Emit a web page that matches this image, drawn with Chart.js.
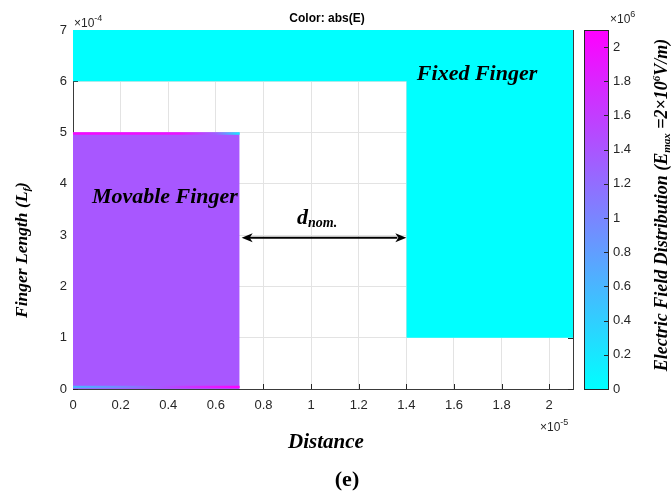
<!DOCTYPE html>
<html>
<head>
<meta charset="utf-8">
<title>Electric field around comb fingers</title>
<script src="https://cdn.jsdelivr.net/npm/chart.js@4"></script>
<style>
  html, body { margin: 0; padding: 0; background: #fff; }
  #wrap { position: relative; width: 672px; height: 497px; }
  #wrap canvas { position: absolute; left: 0; top: 0; }
</style>
</head>
<body>
<div id="wrap">
  <canvas id="field" width="672" height="497"></canvas>
  <canvas id="colorbar" width="672" height="497"></canvas>
</div>
<script>
// Axis ticks (values shown in units of the axis exponent)
const xTickValues = [0, 0.2, 0.4, 0.6, 0.8, 1, 1.2, 1.4, 1.6, 1.8, 2];     // distance, x10^-5 m
const yTickValues = [0, 1, 2, 3, 4, 5, 6, 7];                                // finger length, x10^-4 m
const fieldTickValues = [0, 0.2, 0.4, 0.6, 0.8, 1, 1.2, 1.4, 1.6, 1.8, 2];  // |E|, x10^6 V/m
const distanceMax = 2.1;
const lengthMax = 7;
const fieldMax = 2.1;

// Conductor regions: x extent, top and bottom edge, |E| inside
const regionNames = ['Anchor', 'Fixed Finger', 'Movable Finger'];
const regionXStart = [0, 1.4, 0];
const regionXEnd = [2.1, 2.1, 0.7];
const regionTop = [7, 7, 5];
const regionBottom = [6, 1, 0];
const regionField = [0, 0, 1.38];

// |E| along the top and bottom faces of the movable finger
const topEdgeX = [0, 0.45, 0.6, 0.7];
const topEdgeField = [2.05, 1.95, 1.3, 0.15];
const topEdgeY = 4.98;
const bottomEdgeX = [0, 0.2, 0.5, 0.7];
const bottomEdgeField = [0.6, 1.0, 1.7, 2.1];
const bottomEdgeY = 0.04;

// Nominal gap between the fingers
const gapStart = 0.7;
const gapEnd = 1.4;
const gapY = 2.95;

const SANS = '"Liberation Sans", Arial, sans-serif';
const SERIF = '"Liberation Serif", "Times New Roman", serif';
const INK = '#262626';

// "cool" colormap: cyan at 0, magenta at fieldMax
function cool(v) {
  const t = Math.max(0, Math.min(1, v / fieldMax));
  return 'rgb(' + Math.round(255 * t) + ',' + Math.round(255 * (1 - t)) + ',255)';
}

function runsWidth(ctx, runs) {
  let w = 0;
  for (const r of runs) { ctx.font = r.font; w += ctx.measureText(r.text).width; }
  return w;
}
function drawRuns(ctx, runs, x, y, align) {
  const w = runsWidth(ctx, runs);
  let cx = align === 'center' ? x - w / 2 : (align === 'right' ? x - w : x);
  ctx.textAlign = 'left';
  ctx.textBaseline = 'alphabetic';
  for (const r of runs) {
    ctx.font = r.font;
    ctx.fillText(r.text, cx, y + (r.dy || 0));
    cx += ctx.measureText(r.text).width;
  }
}
function drawRotatedRuns(ctx, runs, x, y) {
  ctx.save();
  ctx.translate(x, y);
  ctx.rotate(-Math.PI / 2);
  drawRuns(ctx, runs, 0, 0, 'center');
  ctx.restore();
}

function edgeGradient(xs, fs) {
  return function (c) {
    const chart = c.chart;
    const sx = chart.scales && chart.scales.x;
    if (!sx || !chart.chartArea) return cool(fs[0]);
    const p0 = sx.getPixelForValue(xs[0]);
    const p1 = sx.getPixelForValue(xs[xs.length - 1]);
    const g = chart.ctx.createLinearGradient(p0, 0, p1, 0);
    xs.forEach(function (x, i) {
      g.addColorStop((x - xs[0]) / (xs[xs.length - 1] - xs[0]), cool(fs[i]));
    });
    return g;
  };
}

const datasets = [];
// face profiles first so they sit on top of the filled regions
[[topEdgeX, topEdgeField, topEdgeY], [bottomEdgeX, bottomEdgeField, bottomEdgeY]].forEach(function (e) {
  datasets.push({
    label: 'face',
    data: e[0].map(function (x) { return { x: x, y: e[2] }; }),
    borderColor: edgeGradient(e[0], e[1]),
    borderWidth: 2.5,
    pointRadius: 0,
    fill: false,
    tension: 0
  });
});
regionNames.forEach(function (name, i) {
  datasets.push({
    label: name,
    data: [{ x: regionXStart[i], y: regionTop[i] }, { x: regionXEnd[i], y: regionTop[i] }],
    fill: { value: regionBottom[i] },
    backgroundColor: cool(regionField[i]),
    borderColor: 'rgba(0,0,0,0)',
    borderWidth: 0,
    pointRadius: 0,
    tension: 0
  });
});

const fieldDecor = {
  id: 'fieldDecor',
  beforeDatasetsDraw(chart) {
    const ctx = chart.ctx, a = chart.chartArea;
    const sx = chart.scales.x, sy = chart.scales.y;
    const len = 5;
    ctx.save();
    ctx.strokeStyle = INK;
    ctx.lineWidth = 1;
    ctx.beginPath();
    xTickValues.forEach(function (v) {
      const p = Math.round(sx.getPixelForValue(v)) + 0.5;
      ctx.moveTo(p, a.bottom); ctx.lineTo(p, a.bottom - len);
      ctx.moveTo(p, a.top); ctx.lineTo(p, a.top + len);
    });
    yTickValues.forEach(function (v) {
      const p = Math.round(sy.getPixelForValue(v)) + 0.5;
      ctx.moveTo(a.left, p); ctx.lineTo(a.left + len, p);
      ctx.moveTo(a.right, p); ctx.lineTo(a.right - len, p);
    });
    ctx.stroke();
    ctx.restore();
  },
  afterDatasetsDraw(chart) {
    const ctx = chart.ctx, a = chart.chartArea;
    const sx = chart.scales.x, sy = chart.scales.y;
    ctx.save();
    // right-hand box edge
    ctx.strokeStyle = '#3a3a3a';
    ctx.lineWidth = 1;
    ctx.beginPath();
    ctx.moveTo(Math.round(a.right) + 0.5, a.top);
    ctx.lineTo(Math.round(a.right) + 0.5, a.bottom);
    ctx.stroke();

    // gap arrow
    const x0 = sx.getPixelForValue(gapStart), x1 = sx.getPixelForValue(gapEnd);
    const y = sy.getPixelForValue(gapY);
    const head = 11, half = 4.5;
    ctx.strokeStyle = '#000';
    ctx.fillStyle = '#000';
    ctx.lineWidth = 2;
    ctx.beginPath();
    ctx.moveTo(x0 + head - 2, y); ctx.lineTo(x1 - head + 2, y);
    ctx.stroke();
    ctx.beginPath();
    ctx.moveTo(x0 + 2, y); ctx.lineTo(x0 + 2 + head, y - half); ctx.lineTo(x0 + 2 + head - 3, y); ctx.lineTo(x0 + 2 + head, y + half); ctx.closePath();
    ctx.fill();
    ctx.beginPath();
    ctx.moveTo(x1, y); ctx.lineTo(x1 - head, y - half); ctx.lineTo(x1 - head + 3, y); ctx.lineTo(x1 - head, y + half); ctx.closePath();
    ctx.fill();

    // region and gap labels
    ctx.fillStyle = '#000';
    drawRuns(ctx, [{ text: 'Movable Finger', font: 'italic bold 22px ' + SERIF }],
      sx.getPixelForValue(0.386), sy.getPixelForValue(3.63), 'center');
    drawRuns(ctx, [{ text: 'Fixed Finger', font: 'italic bold 22px ' + SERIF }],
      sx.getPixelForValue(1.697), sy.getPixelForValue(6.02), 'center');
    drawRuns(ctx, [
      { text: 'd', font: 'italic bold 22px ' + SERIF },
      { text: 'nom.', font: 'italic bold 14px ' + SERIF, dy: 3 }
    ], sx.getPixelForValue(1.025), sy.getPixelForValue(3.22), 'center');
    ctx.restore();
  },
  afterDraw(chart) {
    const ctx = chart.ctx;
    ctx.save();
    ctx.fillStyle = '#000';
    drawRuns(ctx, [{ text: 'Color: abs(E)', font: 'bold 12px ' + SANS }], 327, 22, 'center');
    ctx.fillStyle = INK;
    drawRuns(ctx, [
      { text: '\u00d710', font: '12px ' + SANS },
      { text: '-4', font: '9px ' + SANS, dy: -6 }
    ], 74, 27, 'left');
    drawRuns(ctx, [
      { text: '\u00d710', font: '12px ' + SANS },
      { text: '-5', font: '9px ' + SANS, dy: -6 }
    ], 540, 431, 'left');
    ctx.fillStyle = '#000';
    drawRuns(ctx, [{ text: 'Distance', font: 'italic bold 21px ' + SERIF }], 326, 448, 'center');
    drawRuns(ctx, [{ text: '(e)', font: 'bold 22px ' + SERIF }], 347, 486, 'center');
    drawRotatedRuns(ctx, [
      { text: 'Finger Length (L', font: 'italic bold 17.5px ' + SERIF },
      { text: 'f', font: 'italic bold 11px ' + SERIF, dy: 3 },
      { text: ')', font: 'italic bold 17.5px ' + SERIF }
    ], 27, 250);
    ctx.restore();
  }
};

function fixedTicks(values) {
  return function (scale) { scale.ticks = values.map(function (v) { return { value: v }; }); };
}
function tickText(v) { return String(+Number(v).toFixed(1)); }

new Chart(document.getElementById('field'), {
  type: 'line',
  data: { datasets: datasets },
  options: {
    responsive: false,
    animation: false,
    events: [],
    layout: { padding: { top: 30, right: 99, bottom: 0, left: 0 } },
    plugins: { legend: { display: false }, tooltip: { enabled: false } },
    scales: {
      x: {
        type: 'linear', min: 0, max: distanceMax,
        afterBuildTicks: fixedTicks(xTickValues),
        afterFit: function (s) { s.height = 108; },
        grid: { color: '#e3e3e3', lineWidth: 1, drawTicks: false },
        border: { color: '#3a3a3a', width: 1 },
        ticks: { padding: 9, color: INK, font: { family: SANS, size: 13 }, maxRotation: 0, autoSkip: false, callback: tickText }
      },
      y: {
        type: 'linear', min: 0, max: lengthMax,
        afterBuildTicks: fixedTicks(yTickValues),
        afterFit: function (s) { s.width = 73; },
        grid: { color: '#e3e3e3', lineWidth: 1, drawTicks: false },
        border: { color: '#3a3a3a', width: 1 },
        ticks: { padding: 6, color: INK, font: { family: SANS, size: 13 }, autoSkip: false, callback: tickText }
      }
    }
  },
  plugins: [fieldDecor]
});

const colorbarDecor = {
  id: 'colorbarDecor',
  afterDatasetsDraw(chart) {
    const ctx = chart.ctx, a = chart.chartArea, sy = chart.scales.y;
    ctx.save();
    ctx.strokeStyle = INK;
    ctx.lineWidth = 1;
    ctx.strokeRect(Math.round(a.left) + 0.5, Math.round(a.top) + 0.5, Math.round(a.right - a.left), Math.round(a.bottom - a.top));
    ctx.beginPath();
    fieldTickValues.forEach(function (v) {
      const p = Math.round(sy.getPixelForValue(v)) + 0.5;
      ctx.moveTo(a.right, p); ctx.lineTo(a.right - 4, p);
    });
    ctx.stroke();
    ctx.fillStyle = INK;
    drawRuns(ctx, [
      { text: '\u00d710', font: '12px ' + SANS },
      { text: '6', font: '9px ' + SANS, dy: -6 }
    ], 610, 23, 'left');
    ctx.fillStyle = '#000';
    drawRotatedRuns(ctx, [
      { text: 'Electric Field Distribution (E', font: 'italic bold 18px ' + SERIF },
      { text: 'max', font: 'italic bold 11px ' + SERIF, dy: 3 },
      { text: ' =2\u00d710', font: 'italic bold 18px ' + SERIF },
      { text: '6', font: 'italic bold 11px ' + SERIF, dy: -7 },
      { text: 'V/m)', font: 'italic bold 18px ' + SERIF }
    ], 667, 205);
    ctx.restore();
  }
};

new Chart(document.getElementById('colorbar'), {
  type: 'bar',
  data: {
    labels: ['|E|'],
    datasets: [{
      data: [[0, fieldMax]],
      backgroundColor: function (c) {
        const a = c.chart.chartArea;
        if (!a) return cool(fieldMax / 2);
        const g = c.chart.ctx.createLinearGradient(0, a.bottom, 0, a.top);
        g.addColorStop(0, cool(0));
        g.addColorStop(1, cool(fieldMax));
        return g;
      },
      borderWidth: 0,
      barPercentage: 1,
      categoryPercentage: 1
    }]
  },
  options: {
    responsive: false,
    animation: false,
    events: [],
    layout: { padding: { top: 30, right: 0, bottom: 108, left: 584 } },
    plugins: { legend: { display: false }, tooltip: { enabled: false } },
    scales: {
      x: { display: false },
      y: {
        position: 'right', min: 0, max: fieldMax,
        afterBuildTicks: fixedTicks(fieldTickValues),
        afterFit: function (s) { s.width = 64; },
        grid: { display: false, drawTicks: false },
        border: { display: false },
        ticks: { padding: 5, color: INK, font: { family: SANS, size: 13 }, autoSkip: false, callback: tickText }
      }
    }
  },
  plugins: [colorbarDecor]
});
</script>
</body>
</html>
